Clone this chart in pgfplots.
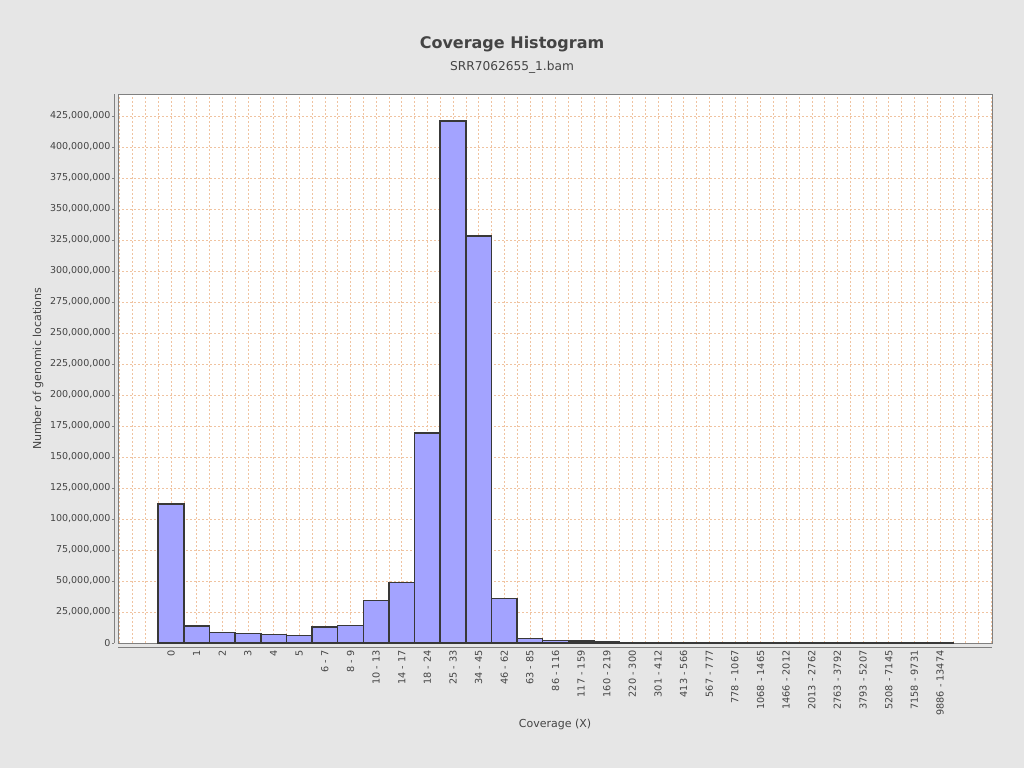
\documentclass[border=0pt]{standalone}
\usepackage{pgfplots}
\pgfplotsset{compat=1.18}
\usepackage{fontspec}
\setmainfont{DejaVu Sans}
\definecolor{bgc}{RGB}{230,230,230}
\definecolor{barc}{RGB}{163,163,255}
\definecolor{gridc}{RGB}{240,195,160}
\definecolor{txtc}{RGB}{68,68,68}
\definecolor{framec}{RGB}{128,128,128}
\begin{document}
\begin{tikzpicture}
\fill[bgc] (0pt,0pt) rectangle (1024pt,768pt);
\useasboundingbox (0pt,0pt) rectangle (1024pt,768pt);
\begin{axis}[
  at={(118pt,125pt)}, anchor=south west,
  scale only axis, width=874pt, height=549pt,
  xmin=-2.07, xmax=32.03, ymin=0, ymax=442.7e6,
  axis background/.style={fill=white},
  axis line style={draw=framec, line width=0.8pt},
  xtick={0,...,30},
  xticklabels={0,1,2,3,4,5,6 - 7,8 - 9,10 - 13,14 - 17,18 - 24,25 - 33,34 - 45,46 - 62,63 - 85,86 - 116,117 - 159,160 - 219,220 - 300,301 - 412,413 - 566,567 - 777,778 - 1067,1068 - 1465,1466 - 2012,2013 - 2762,2763 - 3792,3793 - 5207,5208 - 7145,7158 - 9731,9886 - 13474},
  xticklabel style={rotate=90, anchor=east, font=\fontsize{9.7pt}{11pt}\selectfont, text=txtc, xshift=-2pt},
  xtick style={draw=none},
  minor xtick={-2,-1.5,...,32},
  xmajorgrids=false, xminorgrids=true,
  ytick={0,25000000,...,425000000},
  ytick pos=left,
  ymajorgrids=true,
  grid style={draw=gridc, dash pattern=on 2pt off 2pt, line width=0.6pt},
  minor grid style={draw=gridc, dash pattern=on 2pt off 2pt, line width=0.6pt},
  scaled y ticks=false,
  /pgf/number format/fixed, /pgf/number format/precision=0,
  /pgf/number format/1000 sep={,},
  /pgf/number format/assume math mode=true,
  yticklabel style={font=\fontsize{9.5pt}{11pt}\selectfont, text=txtc, xshift=-2pt},
  ytick style={draw=framec, xshift=-4pt},
  tick align=outside, major tick length=2pt,
]
\addplot[ybar, bar width=1, fill=barc, draw=black!78, line width=1.5pt] coordinates {
(0,112.0e6) (1,13.7e6) (2,8.6e6) (3,7.8e6) (4,7.0e6) (5,6.2e6)
(6,12.9e6) (7,14.3e6) (8,34.4e6) (9,48.9e6) (10,169.4e6) (11,421.0e6)
(12,328.0e6) (13,36.0e6) (14,3.5e6) (15,2.2e6) (16,1.5e6) (17,0.8e6)
(18,0.6e6) (19,0.5e6) (20,0.4e6) (21,0.2e6) (22,0.1e6) (23,0.05e6)
(24,0.04e6) (25,0.03e6) (26,0.02e6) (27,0.02e6) (28,0.01e6) (29,0.01e6) (30,0.01e6)
};
\end{axis}
\draw[framec, line width=0.8pt] (114pt,125pt) -- (114pt,674pt);
\draw[framec, line width=0.8pt] (118pt,121pt) -- (992pt,121pt);
\node[text=txtc, font=\bfseries\fontsize{16pt}{19pt}\selectfont] at (512pt,724pt) {Coverage Histogram};
\node[text=txtc, font=\fontsize{12.2pt}{14pt}\selectfont] at (512pt,701pt) {SRR7062655\_1.bam};
\node[text=txtc, font=\fontsize{11pt}{13pt}\selectfont, rotate=90] at (38pt,399pt) {Number of genomic locations};
\node[text=txtc, font=\fontsize{11pt}{13pt}\selectfont] at (555pt,44pt) {Coverage (X)};
\end{tikzpicture}
\end{document}
